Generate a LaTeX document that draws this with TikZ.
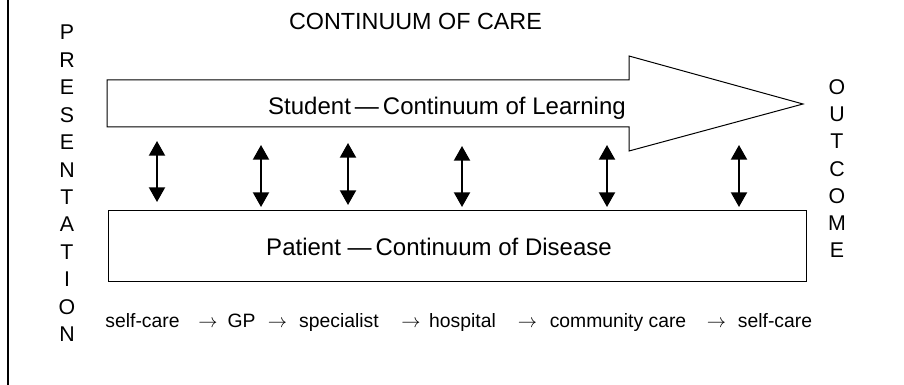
\documentclass[tikz,border=0pt]{standalone}
\usepackage{fontspec}
\setmainfont{Liberation Sans}
\usetikzlibrary{arrows.meta}

\tikzset{every picture/.style={line width=0.75pt}}
\tikzset{
	link/.style={line width=1.5pt, {Triangle[length=11pt,width=12pt]}-{Triangle[length=11pt,width=12pt]}},
	letter/.style={inner sep=0pt, anchor=base, font=\fontsize{16}{16}\selectfont},
	headtext/.style={inner sep=0pt, anchor=base, font=\fontsize{17.5}{18}\selectfont},
	boxtext/.style={inner sep=0pt, anchor=base, font=\fontsize{18}{18}\selectfont},
	caretext/.style={inner sep=0pt, anchor=base, font=\fontsize{14.5}{15}\selectfont}}

\begin{document}
\begin{tikzpicture}[x=0.75pt,y=0.75pt,yscale=-1,xscale=1]
	\useasboundingbox (0,0) rectangle (904,385);
	
	%Straight Lines: frame on the left
	\draw [line width=1.2pt] (8,0) -- (8,385) ;
	%Shape: Right Arrow
	\draw   (107,80) -- (629,80) -- (629,56) -- (803,104) -- (629,151) -- (629,127) -- (107,127) -- cycle ;
	%Shape: Rectangle
	\node (patientbox) [draw, inner sep=0pt, minimum width=523.5pt, minimum height=53.25pt] at (457,245.5) {};
	
	% Text Node
	\node (title) [headtext] at (415.5,30) {CONTINUUM OF CARE};
	% Text Node
	\node (student) [boxtext] at (447,115) {Student\,---\,Continuum of Learning};
	% Text Node
	\node (patient) [boxtext] at (439,255) {Patient ---\,Continuum of Disease};
	
	%Double arrows between learning and disease
	\foreach \x/\a/\b [count=\i] in {157/141/202, 261/145/207, 348/143/205, 462/146/207, 607/145/207, 739/145/207} {
		\coordinate (up\i) at (\x,\a);
		\coordinate (dn\i) at (\x,\b);
		\draw [link] (up\i) -- (dn\i);
	}
	
	% Vertical words
	\foreach \c [count=\i from 0] in {P,R,E,S,E,N,T,A,T,I,O,N}
		\node (pres\i) [letter] at (67,{40+27.4*\i}) {\c};
	\foreach \c [count=\i from 0] in {O,U,T,C,O,M,E}
		\node (out\i) [letter] at (837,{94.5+27.2*\i}) {\c};
	
	% Care path
	\node (care1) [caretext] at (142.5,327) {self-care};
	\node (arr1) [caretext] at (208,327) {$\rightarrow$};
	\node (care2) [caretext] at (241.5,327) {GP};
	\node (arr2) [caretext] at (277.5,327) {$\rightarrow$};
	\node (care3) [caretext] at (339,327) {specialist};
	\node (arr3) [caretext] at (411,327) {$\rightarrow$};
	\node (care4) [caretext] at (462.5,327) {hospital};
	\node (arr4) [caretext] at (527.5,327) {$\rightarrow$};
	\node (care5) [caretext] at (618,327) {community care};
	\node (arr5) [caretext] at (716.5,327) {$\rightarrow$};
	\node (care6) [caretext] at (775,327) {self-care};
	
\end{tikzpicture}
\end{document}
